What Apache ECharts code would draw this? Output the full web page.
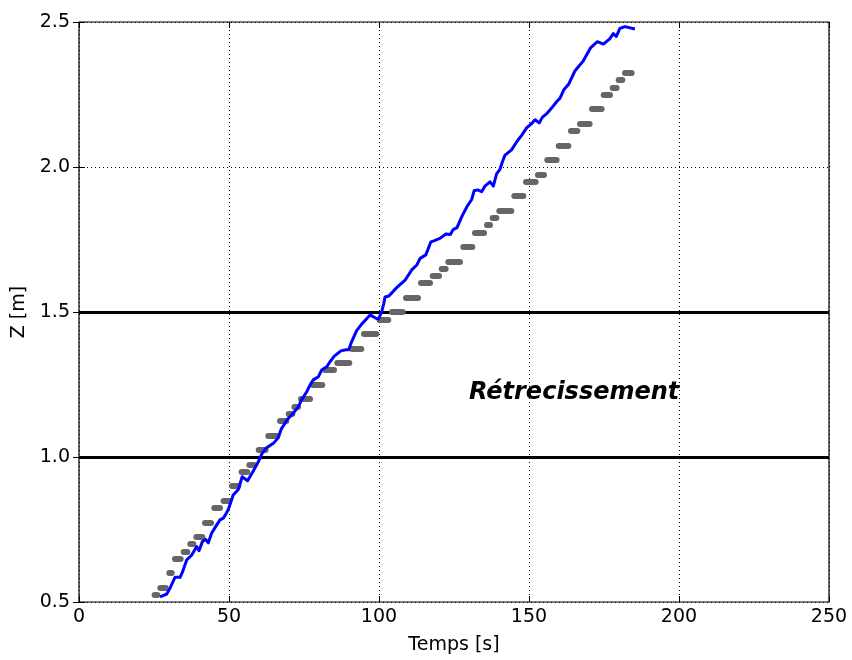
<!DOCTYPE html>
<html>
<head>
<meta charset="utf-8">
<script src="https://cdn.jsdelivr.net/npm/echarts@6/dist/echarts.min.js"></script>
<style>html,body{margin:0;padding:0;background:#fff;}#c{width:852px;height:660px;}</style>
</head>
<body>
<div id="c"></div>
<script>
// Axis ticks
var xTicks = [0, 50, 100, 150, 200, 250];
var yTicks = [0.5, 1.0, 1.5, 2.0, 2.5];

// Gray level dashes: level, start time, end time
var dashLevel = [0.525,0.55,0.6,0.65,0.675,0.7,0.725,0.775,0.825,0.85,0.9,0.95,0.975,1.025,1.075,1.125,1.15,1.175,1.2,1.25,1.3,1.325,1.375,1.425,1.475,1.5,1.55,1.6,1.625,1.65,1.675,1.725,1.775,1.8,1.825,1.85,1.9,1.95,1.975,2.025,2.075,2.125,2.15,2.2,2.25,2.275,2.3,2.325];
var dashStart = [25.2,27.1,30.1,32.0,34.9,37.1,39.1,42.0,45.1,48.2,51.0,54.2,56.8,59.9,63.1,67.0,69.9,71.8,74.0,77.9,82.0,86.1,91.0,95.0,100.2,104.3,109.0,114.0,117.9,120.9,123.1,128.1,132.0,136.0,137.9,140.1,145.1,149.0,153.0,156.1,159.9,164.0,167.0,171.0,174.9,177.9,179.9,182.0];
var dashEnd   = [26.1,28.9,30.9,33.9,36.1,38.1,41.1,44.0,47.0,50.0,53.1,56.1,58.3,62.2,66.1,69.1,71.1,73.0,77.0,81.1,85.0,90.1,94.1,99.1,103.1,107.9,113.0,117.0,120.0,122.2,127.0,131.1,135.0,137.0,139.1,144.1,148.1,152.2,155.0,159.2,163.1,166.1,170.2,174.2,177.0,179.2,181.1,184.2];

// Blue measured curve
var blueT = [27,29.2,30.3,32,33.7,34.4,35.9,37.6,39.2,40,41.1,42.2,43.1,44.2,45.9,47,48.1,49.2,49.8,51.4,53.1,54.4,56.2,58.1,59.8,60.9,62.3,64.8,66.4,67.4,69.5,71.4,73.1,74.2,75.9,77,78.1,79.8,80.9,82.6,83.7,85.1,87.3,89,89.9,90.9,92.5,94.2,96,97,98.7,99.8,100.9,101.6,102,103.3,105.9,108.7,110.9,112.6,113.7,115.6,117.3,118.5,120.3,122.3,123.8,124.7,126,127.6,129.3,130.9,131.7,132.9,134.2,135.3,137,138.1,139.2,140.3,141.2,142,144.2,145.9,147.6,149.2,150.9,152,153.4,154.5,155.9,157.6,159.2,160.3,161.6,163.2,165.3,168.1,170.6,172.8,174.8,176.9,178.1,179.1,180.3,182,185.3];
var blueZ = [0.518,0.527,0.547,0.585,0.585,0.601,0.645,0.662,0.691,0.677,0.708,0.716,0.704,0.737,0.766,0.783,0.789,0.808,0.82,0.869,0.888,0.932,0.918,0.952,0.984,1.01,1.03,1.047,1.066,1.096,1.13,1.151,1.173,1.197,1.225,1.248,1.266,1.277,1.3,1.311,1.329,1.348,1.366,1.37,1.37,1.398,1.435,1.458,1.478,1.49,1.48,1.475,1.501,1.53,1.552,1.555,1.584,1.61,1.645,1.662,1.685,1.697,1.742,1.746,1.754,1.769,1.767,1.784,1.791,1.829,1.863,1.888,1.918,1.921,1.915,1.934,1.949,1.934,1.976,1.992,2.02,2.041,2.059,2.087,2.11,2.135,2.15,2.163,2.152,2.172,2.184,2.204,2.225,2.237,2.266,2.285,2.331,2.366,2.412,2.432,2.424,2.442,2.46,2.45,2.478,2.484,2.476];

// Horizontal reference levels
var hLevels = [1.0, 1.5];

// Annotation
var noteText = 'Rétrecissement';
var noteT = 130, noteZ = 1.2;

var FONT = 'DejaVu Sans';
var xMin = xTicks[0], xMax = xTicks[xTicks.length-1];
var yMin = yTicks[0], yMax = yTicks[yTicks.length-1];

var dashData = dashLevel.map(function(l, i){ return {coords: [[dashStart[i], l], [dashEnd[i], l]]}; });
var blueData = blueT.map(function(t, i){ return [t, blueZ[i]]; });
var hData = hLevels.map(function(l){ return {coords: [[xMin, l], [xMax, l]]}; });

var chart = echarts.init(document.getElementById('c'), null, {renderer: 'canvas'});

function xAx(pos, show) {
  return {
    type: 'value', position: pos, min: xMin, max: xMax, interval: 50,
    axisLine: {show: false},
    axisTick: {show: true, inside: true, length: 6, lineStyle: {color: '#000', width: 1}},
    axisLabel: {show: show, color: '#000', fontFamily: FONT, fontSize: 19, margin: 6},
    splitLine: {show: show, lineStyle: {color: '#000', type: [1, 3], width: 1}},
    name: show ? 'Temps [s]' : '', nameLocation: 'middle', nameGap: 34,
    nameTextStyle: {color: '#000', fontFamily: FONT, fontSize: 19}
  };
}
function yAx(pos, show) {
  return {
    type: 'value', position: pos, min: yMin, max: yMax, interval: 0.5,
    axisLine: {show: false},
    axisTick: {show: true, inside: true, length: 6, lineStyle: {color: '#000', width: 1}},
    axisLabel: {show: show, color: '#000', fontFamily: FONT, fontSize: 19, margin: 9,
      formatter: function(v){ return v.toFixed(1); }},
    splitLine: {show: show, lineStyle: {color: '#000', type: [1, 3], width: 1}},
    name: show ? 'Z [m]' : '', nameLocation: 'middle', nameGap: 48,
    nameTextStyle: {color: '#000', fontFamily: FONT, fontSize: 19}
  };
}

chart.setOption({
  animation: false,
  backgroundColor: '#fff',
  grid: {left: 79, right: 23, top: 22, bottom: 58, show: true, borderColor: '#000', borderWidth: 1.2, backgroundColor: 'transparent'},
  xAxis: [xAx('bottom', true), xAx('top', false)],
  yAxis: [yAx('left', true), yAx('right', false)],
  series: [
    {
      type: 'lines', coordinateSystem: 'cartesian2d', xAxisIndex: 0, yAxisIndex: 0,
      data: hData, silent: true,
      lineStyle: {color: '#000', width: 3, opacity: 1}
    },
    {
      type: 'lines', coordinateSystem: 'cartesian2d', xAxisIndex: 0, yAxisIndex: 0,
      data: dashData, silent: true,
      lineStyle: {color: '#666666', width: 6, opacity: 1, cap: 'round'}
    },
    {
      type: 'line', xAxisIndex: 0, yAxisIndex: 0, data: blueData,
      showSymbol: false, symbol: 'none',
      lineStyle: {color: '#0000ff', width: 3, join: 'round'}
    },
    {
      type: 'scatter', xAxisIndex: 0, yAxisIndex: 0, data: [[noteT, noteZ]],
      symbolSize: 0, silent: true, itemStyle: {opacity: 1},
      label: {show: true, position: [0, 0], align: 'left', verticalAlign: 'middle', offset: [0, -6],
        formatter: noteText, color: '#000', opacity: 1, fontFamily: FONT, fontSize: 24, fontWeight: 'bold', fontStyle: 'italic'}
    }
  ]
});
</script>
</body>
</html>
